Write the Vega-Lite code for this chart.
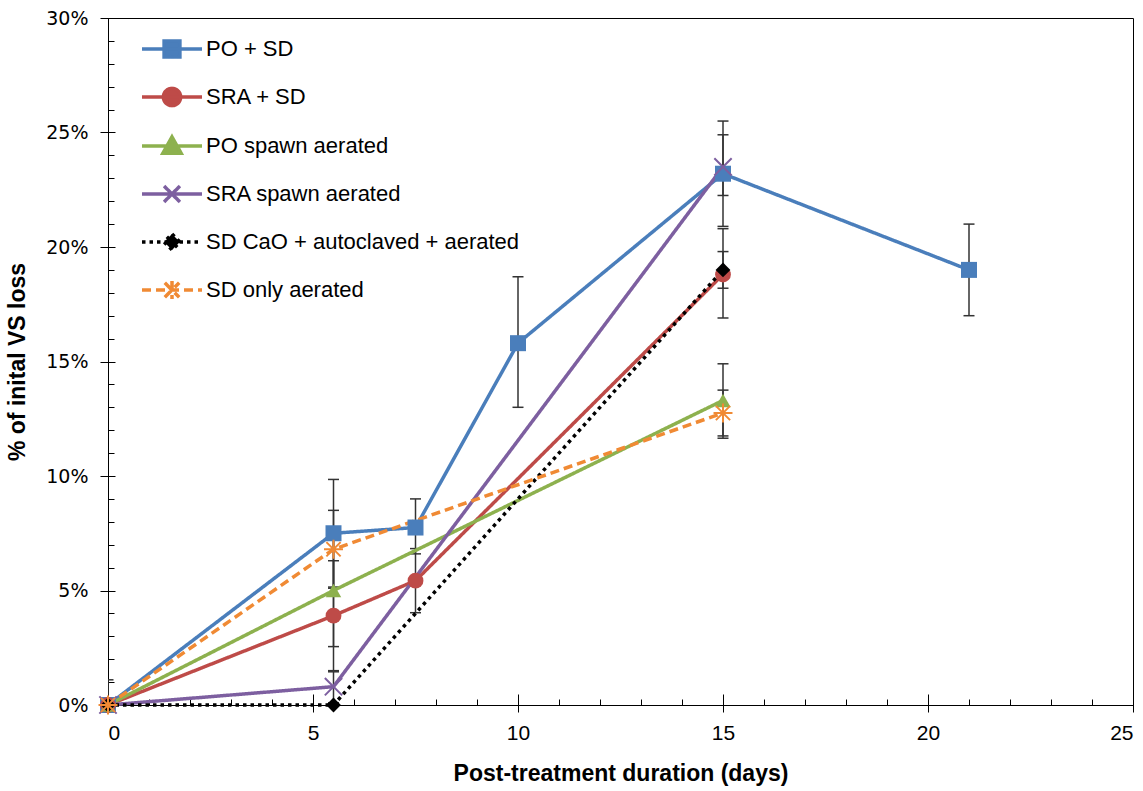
{
  "$schema": "https://vega.github.io/schema/vega-lite/v6.json",
  "width": 1025,
  "height": 687,
  "autosize": {"type": "none"},
  "padding": {"left": 108, "top": 18, "right": 10, "bottom": 86},
  "background": "white",
  "config": {
    "view": {"stroke": "#000", "strokeWidth": 1},
    "axis": {"grid": false, "domainColor": "#000", "tickColor": "#000", "labelColor": "#000", "titleColor": "#000", "domainWidth": 1, "tickWidth": 1}
  },
  "data": {
    "values": [
      {"s": "PO + SD", "day": 0, "v": 0, "lo": 0, "hi": 0.011},
      {"s": "PO + SD", "day": 5.5, "v": 0.075, "lo": 0.0515, "hi": 0.0985},
      {"s": "PO + SD", "day": 7.5, "v": 0.0775, "lo": 0.066, "hi": 0.09},
      {"s": "PO + SD", "day": 10, "v": 0.158, "lo": 0.13, "hi": 0.187},
      {"s": "PO + SD", "day": 15, "v": 0.232, "lo": 0.209, "hi": 0.255},
      {"s": "PO + SD", "day": 21, "v": 0.19, "lo": 0.17, "hi": 0.21},
      {"s": "SRA + SD", "day": 0, "v": 0},
      {"s": "SRA + SD", "day": 5.5, "v": 0.039, "lo": 0.015, "hi": 0.063},
      {"s": "SRA + SD", "day": 7.5, "v": 0.0543, "lo": 0.0403, "hi": 0.0683},
      {"s": "SRA + SD", "day": 15, "v": 0.188, "lo": 0.169, "hi": 0.208},
      {"s": "PO spawn aerated", "day": 0, "v": 0},
      {"s": "PO spawn aerated", "day": 5.5, "v": 0.05, "lo": 0.0255, "hi": 0.0745},
      {"s": "PO spawn aerated", "day": 15, "v": 0.133, "lo": 0.1175, "hi": 0.149},
      {"s": "SRA spawn aerated", "day": 0, "v": 0},
      {"s": "SRA spawn aerated", "day": 5.5, "v": 0.008, "lo": 0.001, "hi": 0.0145},
      {"s": "SRA spawn aerated", "day": 15, "v": 0.235, "lo": 0.2225, "hi": 0.249},
      {"s": "SD CaO + autoclaved + aerated", "day": 0, "v": 0},
      {"s": "SD CaO + autoclaved + aerated", "day": 5.5, "v": 0},
      {"s": "SD CaO + autoclaved + aerated", "day": 15, "v": 0.19, "lo": 0.182, "hi": 0.198},
      {"s": "SD only aerated", "day": 0, "v": 0},
      {"s": "SD only aerated", "day": 5.5, "v": 0.068, "lo": 0.051, "hi": 0.085},
      {"s": "SD only aerated", "day": 15, "v": 0.1275, "lo": 0.1165, "hi": 0.1375}
    ]
  },
  "layer": [
    {
      "mark": {"type": "rule", "color": "#333", "strokeWidth": 1.5, "clip": true},
      "encoding": {
        "x": {"field": "day", "type": "quantitative", "scale": {"domain": [0, 25], "nice": false},
          "axis": {"orient": "bottom", "values": [0, 5, 10, 15, 20, 25], "tickSize": 7, "labelPadding": 10, "labelFont": "Liberation Sans Narrow, Liberation Sans", "labelFontSize": 21,
            "title": "Post-treatment duration (days)", "titleFont": "Liberation Sans Narrow, Liberation Sans", "titleFontWeight": "bold", "titleFontSize": 23, "titlePadding": 19}},
        "y": {"field": "lo", "type": "quantitative", "scale": {"domain": [0, 0.3], "nice": false},
          "axis": {"orient": "left", "values": [0, 0.05, 0.1, 0.15, 0.2, 0.25, 0.3], "format": ".0%", "tickSize": 8, "labelPadding": 12, "labelFont": "DejaVu Sans", "labelFontSize": 19,
            "title": "% of inital VS loss", "titleFont": "Liberation Sans Narrow, Liberation Sans", "titleFontWeight": "bold", "titleFontSize": 23, "titlePadding": 16}},
        "y2": {"field": "hi"}
      }
    },
    {
      "mark": {"type": "point", "shape": "M-1,0H1", "size": 121, "stroke": "#333", "strokeWidth": 1.5, "opacity": 1, "clip": true},
      "encoding": {
        "x": {"field": "day", "type": "quantitative",
          "axis": {"orient": "bottom", "values": [0,1,2,3,4,5,6,7,8,9,10,11,12,13,14,15,16,17,18,19,20,21,22,23,24,25], "offset": -6, "tickSize": 6, "labels": false, "domain": false, "title": null}},
        "y": {"field": "lo", "type": "quantitative",
          "axis": {"orient": "left", "values": [0,0.01,0.02,0.03,0.04,0.05,0.06,0.07,0.08,0.09,0.1,0.11,0.12,0.13,0.14,0.15,0.16,0.17,0.18,0.19,0.2,0.21,0.22,0.23,0.24,0.25,0.26,0.27,0.28,0.29,0.3], "offset": -6, "tickSize": 6, "labels": false, "domain": false, "title": null}}
      }
    },
    {
      "mark": {"type": "point", "shape": "M-1,0H1", "size": 121, "stroke": "#333", "strokeWidth": 1.5, "opacity": 1, "clip": true},
      "encoding": {
        "x": {"field": "day", "type": "quantitative",
          "axis": {"orient": "bottom", "values": [0, 5, 10, 15, 20, 25], "offset": -11, "tickSize": 11, "labels": false, "domain": false, "title": null}},
        "y": {"field": "hi", "type": "quantitative",
          "axis": {"orient": "left", "values": [0, 0.05, 0.1, 0.15, 0.2, 0.25, 0.3], "offset": -7, "tickSize": 7, "labels": false, "domain": false, "title": null}}
      }
    },
    {
      "mark": {"type": "line", "strokeWidth": 3.5},
      "encoding": {
        "x": {"field": "day", "type": "quantitative", "axis": null},
        "y": {"field": "v", "type": "quantitative", "axis": null},
        "color": {"field": "s", "type": "nominal",
          "scale": {"domain": ["PO + SD", "SRA + SD", "PO spawn aerated", "SRA spawn aerated", "SD CaO + autoclaved + aerated", "SD only aerated"],
            "range": ["#4A7EBB", "#BE4B48", "#8DB14E", "#7D5FA0", "#000000", "#F08A34"]},
          "legend": {"orient": "none", "legendX": 38, "legendY": 5, "title": null, "symbolSize": 2304, "labelFontSize": 22, "labelFont": "Liberation Sans", "labelColor": "#000",
            "labelOffset": 8, "rowPadding": 7, "padding": 0, "labelLimit": 400,
            "encode": {"symbols": {"update": {
              "shape": {"signal": "datum.value === 'PO + SD' ? 'M-1.25,0H1.25M-0.33,-0.33H0.33V0.33H-0.33Z' : datum.value === 'SRA + SD' ? 'M-1.25,0H1.25M-0.36,0A0.36,0.36 0 1,0 0.36,0A0.36,0.36 0 1,0 -0.36,0Z' : datum.value === 'PO spawn aerated' ? 'M-1.25,0H1.25M0,-0.38L0.38,0.3H-0.38Z' : datum.value === 'SRA spawn aerated' ? 'M-1.25,0H1.25M-0.33,-0.33L0.33,0.33M-0.33,0.33L0.33,-0.33' : datum.value === 'SD only aerated' ? 'M-1.25,0H1.25M-0.3,-0.3L0.3,0.3M-0.3,0.3L0.3,-0.3M0,-0.38V0.38' : 'M-1.25,0H1.25M0,-0.33L0.33,0L0,0.33L-0.33,0Z'"},
              "fill": {"scale": "color", "field": "value"},
              "stroke": {"scale": "color", "field": "value"},
              "strokeWidth": {"value": 3.5},
              "strokeDash": {"signal": "datum.value === 'SD CaO + autoclaved + aerated' ? [3.5, 4] : datum.value === 'SD only aerated' ? [9, 5] : [1, 0]"},
              "size": {"value": 2304},
              "opacity": {"value": 1}
            }}}}
        },
        "strokeDash": {"field": "s", "type": "nominal", "legend": null,
          "scale": {"domain": ["PO + SD", "SRA + SD", "PO spawn aerated", "SRA spawn aerated", "SD CaO + autoclaved + aerated", "SD only aerated"],
            "range": [[1, 0], [1, 0], [1, 0], [1, 0], [3.5, 4], [9, 5]]}}
      }
    },
    {
      "transform": [{"filter": "datum.s === 'PO + SD'"}],
      "mark": {"type": "point", "shape": "square", "filled": true, "size": 256, "opacity": 1},
      "encoding": {
        "x": {"field": "day", "type": "quantitative", "axis": null},
        "y": {"field": "v", "type": "quantitative", "axis": null},
        "color": {"field": "s", "type": "nominal"}
      }
    },
    {
      "transform": [{"filter": "datum.s === 'SRA + SD'"}],
      "mark": {"type": "point", "shape": "circle", "filled": true, "size": 250, "opacity": 1},
      "encoding": {
        "x": {"field": "day", "type": "quantitative", "axis": null},
        "y": {"field": "v", "type": "quantitative", "axis": null},
        "color": {"field": "s", "type": "nominal"}
      }
    },
    {
      "transform": [{"filter": "datum.s === 'PO spawn aerated'"}],
      "mark": {"type": "point", "shape": "triangle-up", "filled": true, "size": 240, "opacity": 1},
      "encoding": {
        "x": {"field": "day", "type": "quantitative", "axis": null},
        "y": {"field": "v", "type": "quantitative", "axis": null},
        "color": {"field": "s", "type": "nominal"}
      }
    },
    {
      "transform": [{"filter": "datum.s === 'SRA spawn aerated'"}],
      "mark": {"type": "point", "shape": "M-1,-1L1,1M-1,1L1,-1", "filled": false, "size": 300, "strokeWidth": 2, "opacity": 1},
      "encoding": {
        "x": {"field": "day", "type": "quantitative", "axis": null},
        "y": {"field": "v", "type": "quantitative", "axis": null},
        "color": {"field": "s", "type": "nominal"}
      }
    },
    {
      "transform": [{"filter": "datum.s === 'SD CaO + autoclaved + aerated'"}],
      "mark": {"type": "point", "shape": "diamond", "filled": true, "size": 220, "opacity": 1},
      "encoding": {
        "x": {"field": "day", "type": "quantitative", "axis": null},
        "y": {"field": "v", "type": "quantitative", "axis": null},
        "color": {"field": "s", "type": "nominal"}
      }
    },
    {
      "transform": [{"filter": "datum.s === 'SD only aerated'"}],
      "mark": {"type": "point", "shape": "M-0.9,-0.9L0.9,0.9M-0.9,0.9L0.9,-0.9M0,-1.2V1.2M-1.2,0H1.2", "filled": false, "size": 250, "strokeWidth": 2, "opacity": 1},
      "encoding": {
        "x": {"field": "day", "type": "quantitative", "axis": null},
        "y": {"field": "v", "type": "quantitative", "axis": null},
        "color": {"field": "s", "type": "nominal"}
      }
    }
  ],
  "resolve": {"axis": {"x": "independent", "y": "independent"}}
}
